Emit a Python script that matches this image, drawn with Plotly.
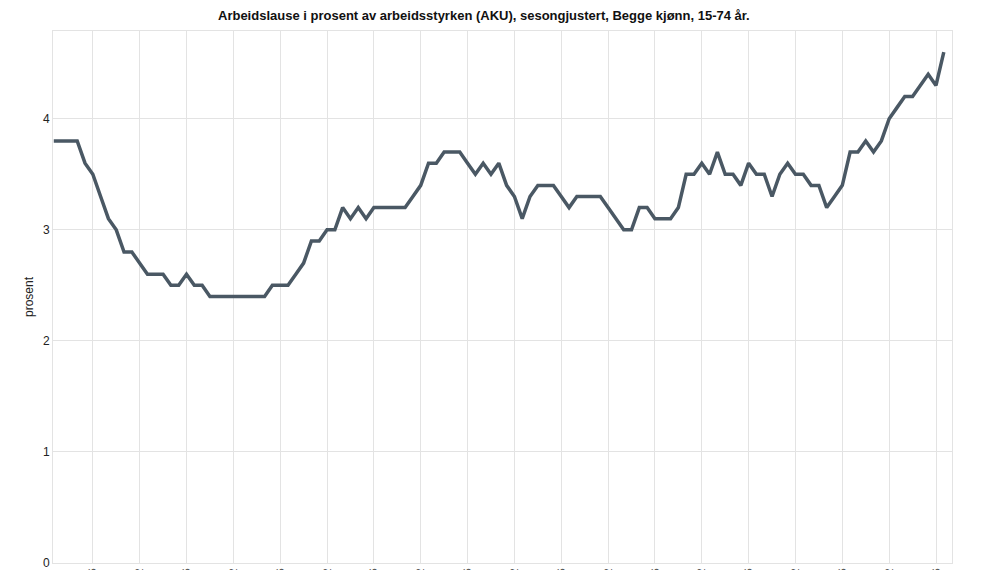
import plotly.graph_objects as go

# Monthly periods, 2006M01 .. 2015M07
years = list(range(2006, 2016))
months = ["01", "02", "03", "04", "05", "06", "07", "08", "09", "10", "11", "12"]
periods = [f"{y}M{m}" for y in years for m in months][:115]

# Arbeidslause i prosent (sesongjustert)
values = [
    3.8, 3.8, 3.8, 3.8, 3.6, 3.5, 3.3, 3.1, 3.0, 2.8, 2.8, 2.7,   # 2006
    2.6, 2.6, 2.6, 2.5, 2.5, 2.6, 2.5, 2.5, 2.4, 2.4, 2.4, 2.4,   # 2007
    2.4, 2.4, 2.4, 2.4, 2.5, 2.5, 2.5, 2.6, 2.7, 2.9, 2.9, 3.0,   # 2008
    3.0, 3.2, 3.1, 3.2, 3.1, 3.2, 3.2, 3.2, 3.2, 3.2, 3.3, 3.4,   # 2009
    3.6, 3.6, 3.7, 3.7, 3.7, 3.6, 3.5, 3.6, 3.5, 3.6, 3.4, 3.3,   # 2010
    3.1, 3.3, 3.4, 3.4, 3.4, 3.3, 3.2, 3.3, 3.3, 3.3, 3.3, 3.2,   # 2011
    3.1, 3.0, 3.0, 3.2, 3.2, 3.1, 3.1, 3.1, 3.2, 3.5, 3.5, 3.6,   # 2012
    3.5, 3.7, 3.5, 3.5, 3.4, 3.6, 3.5, 3.5, 3.3, 3.5, 3.6, 3.5,   # 2013
    3.5, 3.4, 3.4, 3.2, 3.3, 3.4, 3.7, 3.7, 3.8, 3.7, 3.8, 4.0,   # 2014
    4.1, 4.2, 4.2, 4.3, 4.4, 4.3, 4.6,                             # 2015
]

# every sixth period carries a tick / gridline
tick_periods = periods[5::6]
y_ticks = [0, 1, 2, 3, 4]

title_line1 = "etter tid."
title_line2 = "Arbeidslause i prosent av arbeidsstyrken (AKU), sesongjustert, Begge kjønn, 15-74 år."

fig = go.Figure()
fig.add_trace(go.Scatter(
    x=periods, y=values, mode="lines",
    line=dict(color="#4a5864", width=3.5),
    hoverinfo="x+y", showlegend=False,
))

grid = "#e3e3e3"
fig.update_layout(
    width=992, height=562,
    margin=dict(l=45, r=48, t=23, b=7),
    paper_bgcolor="white", plot_bgcolor="white",
    font=dict(family="Liberation Sans, Arial, sans-serif", size=12, color="#222222"),
    xaxis=dict(
        type="category", range=[-0.1, 115.05],
        tickmode="array", tickvals=tick_periods, ticktext=tick_periods,
        tickangle=-90, tickfont=dict(size=11, color="#555555"),
        showgrid=True, gridcolor=grid, gridwidth=1,
        showline=True, linecolor=grid, linewidth=1, mirror=True,
        ticks="", automargin=False, zeroline=False,
    ),
    yaxis=dict(
        range=[0, 4.79], tickmode="array", tickvals=y_ticks,
        showgrid=True, gridcolor=grid, gridwidth=1,
        showline=True, linecolor=grid, linewidth=1, mirror=True,
        ticks="", automargin=False, zeroline=False,
        ticklabeloverflow="allow",
        title=dict(text="prosent", font=dict(size=12, color="#222222"), standoff=6),
    ),
    annotations=[
        dict(text="<b>" + title_line1 + "</b>", xref="paper", yref="paper",
             x=0.479, y=1.064, xanchor="center", yanchor="middle",
             showarrow=False, font=dict(size=13, color="#111111")),
        dict(text="<b>" + title_line2 + "</b>", xref="paper", yref="paper",
             x=0.479, y=1.030, xanchor="center", yanchor="middle",
             showarrow=False, font=dict(size=13, color="#111111")),
    ],
)

fig.write_html("out.html")
